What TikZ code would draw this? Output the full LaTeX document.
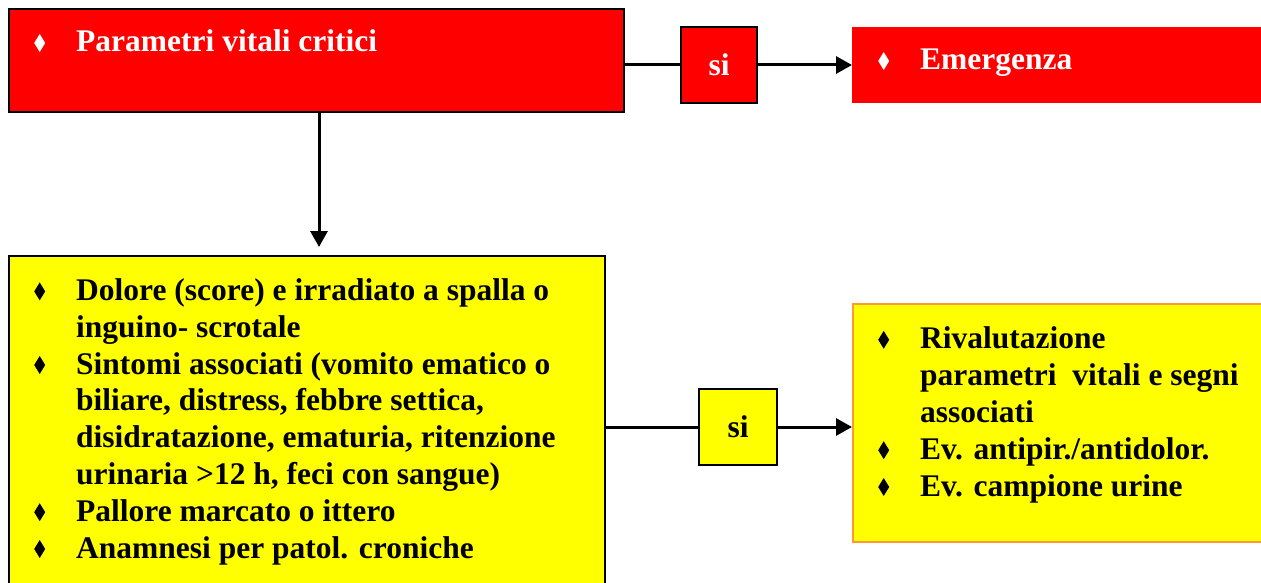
\documentclass[tikz,border=0pt]{standalone}
\usepackage{fontspec}
\setmainfont{Liberation Serif}
\usetikzlibrary{arrows.meta}

\definecolor{alarm}{RGB}{255,0,0}
\definecolor{warn}{RGB}{255,255,0}
\definecolor{edgeorange}{RGB}{255,153,51}

% diamond bullet, drawn in the current text colour
\newcommand\dia{\tikz[baseline=0pt]\fill (0,9pt) -- (5.5pt,18pt) -- (11pt,9pt) -- (5.5pt,0pt) -- cycle;}
\newcommand\itm{\llap{\dia\hspace{31pt}}}
\newcommand\txtsize{\fontsize{31.5}{36.8}\selectfont\bfseries}

\begin{document}
\begin{tikzpicture}[x=1pt,y=-1pt,
  box/.style={draw=black,line width=2pt,inner sep=0pt,anchor=north west},
  sibox/.style={draw=black,line width=2pt,inner sep=0pt,font=\txtsize},
  body/.style={anchor=base west,inner sep=0pt,align=left,font=\txtsize},
  link/.style={line width=3pt},
  arr/.style={line width=3pt,-{Triangle[length=16pt,width=17pt]}}]
\clip (0,0) rectangle (1261,583);
\fill[white] (0,0) rectangle (1261,583);

% top row: critical vital signs
\node[box,fill=alarm,minimum width=615pt,minimum height=103pt] (crit) at (8,8) {};
\node[sibox,fill=alarm,text=white,minimum width=76pt,minimum height=76pt] (si1) at (719,65) {si};
\node[anchor=north west,inner sep=0pt,fill=alarm,minimum width=420pt,minimum height=76pt] (emerg) at (852,27) {};
\node[body,text=white] (critT) at (76,52) {\itm Parametri vitali critici};
\node[body,text=white] (emergT) at (920,70) {\itm Emergenza};

% lower row: symptoms and follow-up (base anchor sits on the last line)
\node[box,fill=warn,minimum width=596pt,minimum height=340pt] (sympt) at (8,255) {};
\node[sibox,fill=warn,minimum width=78pt,minimum height=76pt] (si2) at (738,427) {si};
\node[box,draw=edgeorange,fill=warn,minimum width=420pt,minimum height=238pt] (reval) at (852,303) {};
\node[body] (symptT) at (76,558) {\itm Dolore (score) e irradiato a spalla o\\
  inguino- scrotale\\
  \itm Sintomi associati (vomito ematico o\\
  biliare, distress, febbre settica,\\
  disidratazione, ematuria, ritenzione\\
  urinaria >12 h, feci con sangue)\\
  \itm Pallore marcato o ittero\\
  \itm Anamnesi per patol. croniche};
\node[body] (revalT) at (920,496) {\itm Rivalutazione\\
  parametri\ \ vitali e segni\\
  associati\\
  \itm Ev. antipir./antidolor.\\
  \itm Ev. campione urine};

% connectors
\draw[link] (crit.east |- si1.west) -- (si1.west);
\draw[arr] (si1.east) -- (emerg.west |- si1.east);
\draw[arr,shorten >=8pt] ([xshift=2.5pt]crit.south) -- ([xshift=2.5pt]crit.south |- sympt.north);
\draw[link] (sympt.east |- si2.west) -- (si2.west);
\draw[arr] (si2.east) -- (reval.west |- si2.east);
\end{tikzpicture}
\end{document}
